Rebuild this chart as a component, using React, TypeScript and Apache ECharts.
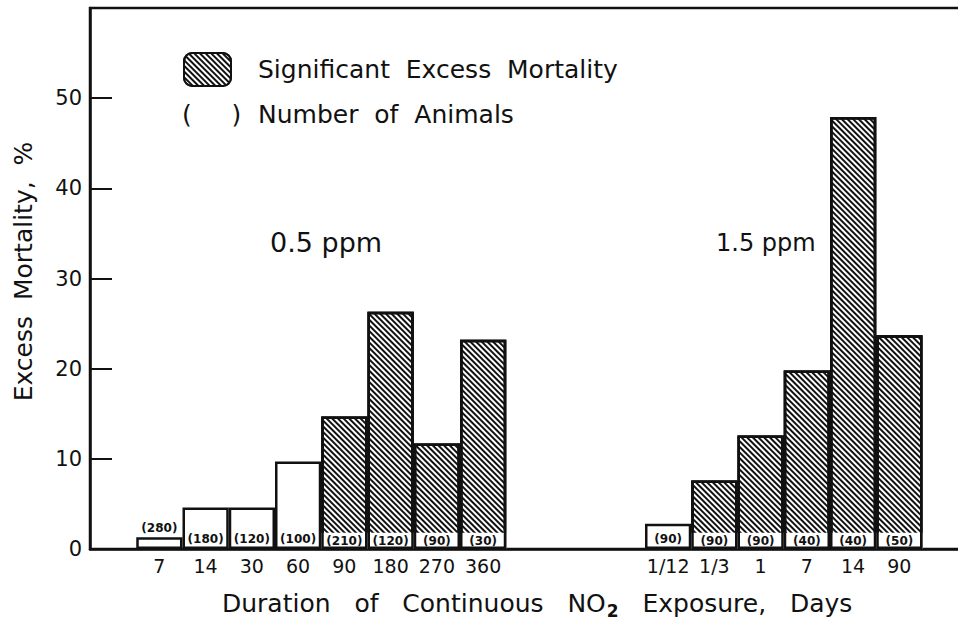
import React, { useEffect, useRef } from "react";
import * as echarts from "echarts";

const dur05 = ["7", "14", "30", "60", "90", "180", "270", "360"];
const mort05 = [1.3, 4.6, 4.6, 9.7, 14.7, 26.3, 11.7, 23.2];
const n05 = [280, 180, 120, 100, 210, 120, 90, 30];
const sig05 = [false, false, false, false, true, true, true, true];

const dur15 = ["1/12", "1/3", "1", "7", "14", "90"];
const mort15 = [2.8, 7.6, 12.6, 19.8, 47.9, 23.7];
const n15 = [90, 90, 90, 40, 40, 50];
const sig15 = [false, true, true, true, true, true];

const yTicks = [0, 10, 20, 30, 40, 50];
const STRIP = 1.8;

const FONT = "DejaVu Sans";

export default function App() {
  const ref = useRef<HTMLDivElement>(null);
  useEffect(() => {
    if (!ref.current) return;
    const chart = echarts.init(ref.current, null, { renderer: "svg" });

    const pad = (k: number) => Array.from({ length: k }, () => null);
    const categories = [""].concat(dur05, ["", "", ""], dur15, [""]);
    const values = ([null] as any[]).concat(mort05, pad(3), mort15, [null]);
    const counts = ([null] as any[]).concat(n05, pad(3), n15, [null]);
    const sig = ([false] as boolean[]).concat(sig05, [false, false, false], sig15, [false]);

    const decal = {
      symbol: "rect",
      symbolSize: 1,
      color: "#111",
      backgroundColor: "#fff",
      dashArrayX: [1, 0],
      dashArrayY: [1.6, 2.0],
      rotation: Math.PI / 4,
    };

    const hatched = values.map((v, i) => (v != null && sig[i] ? v : "-"));
    const plain = values.map((v, i) =>
      v != null && !sig[i]
        ? {
            value: v,
            label: {
              show: true,
              formatter: "(" + counts[i] + ")",
              position: v < 3 && i < 5 ? "top" : "insideBottom",
              distance: v < 3 && i < 5 ? 3 : 4,
            },
          }
        : "-"
    );
    const strip = values.map((v, i) =>
      v != null && sig[i]
        ? { value: STRIP, label: { show: true, formatter: "(" + counts[i] + ")", position: "inside" } }
        : "-"
    );
    const outline = values.map((v, i) => (v != null && sig[i] ? v : "-"));

    const labelStyle = {
      fontFamily: FONT,
      fontSize: 12,
      fontWeight: "bold" as const,
      color: "#111",
    };

    chart.setOption({
      animation: false,
      backgroundColor: "#fff",
      textStyle: { fontFamily: FONT, color: "#111" },
      grid: {
        left: 90,
        top: 8,
        width: 46.25 * 19,
        height: 541,
        containLabel: false,
        outerBoundsMode: "none",
        show: true,
        borderColor: "#111",
        borderWidth: 2.5,
        backgroundColor: "transparent",
      },
      legend: {
        show: true,
        data: ["Significant Excess Mortality"],
        formatter: () => "Significant  Excess  Mortality",
        left: 183,
        top: 52,
        padding: 0,
        itemWidth: 47,
        itemHeight: 33,
        selectedMode: false,
        textStyle: {
          fontFamily: FONT,
          fontSize: 25,
          color: "#111",
          padding: [6, 0, 0, 22],
        },
      },
      xAxis: {
        type: "category",
        data: categories,
        axisLine: { show: true, lineStyle: { color: "#111", width: 2.5 } },
        axisTick: { show: false },
        axisLabel: {
          interval: 0,
          margin: 7,
          fontFamily: FONT,
          fontSize: 19,
          color: "#111",
        },
        splitLine: { show: false },
      },
      yAxis: {
        type: "value",
        min: 0,
        max: 60,
        interval: 10,
        name: "Excess  Mortality,  %",
        nameLocation: "middle",
        nameRotate: 90,
        nameGap: 54,
        nameTextStyle: { fontFamily: FONT, fontSize: 25, color: "#111", padding: [0, 0, 0, 14] },
        axisLine: { show: true, lineStyle: { color: "#111", width: 2.5 } },
        axisTick: { show: true, inside: true, length: 22, lineStyle: { color: "#111", width: 2 } },
        axisLabel: {
          margin: 8,
          fontFamily: FONT,
          fontSize: 21,
          color: "#111",
          formatter: (v: number) => (yTicks.indexOf(v) >= 0 ? String(v) : ""),
        },
        splitLine: { show: false },
      },
      series: [
        {
          name: "Significant Excess Mortality",
          type: "bar",
          data: hatched,
          barCategoryGap: "0%",
          barGap: "-100%",
          itemStyle: { color: "#fff", decal, borderColor: "#111", borderWidth: 2.5 },
        },
        {
          name: "Not significant",
          type: "bar",
          data: plain,
          barGap: "-100%",
          barCategoryGap: "0%",
          itemStyle: { color: "#fff", borderColor: "#111", borderWidth: 2.5 },
          label: labelStyle,
        },
        {
          name: "strip",
          type: "bar",
          data: strip,
          barGap: "-100%",
          barCategoryGap: "0%",
          itemStyle: { color: "#fff", borderWidth: 0 },
          label: labelStyle,
        },
        {
          name: "outline",
          type: "bar",
          data: outline,
          barGap: "-100%",
          barCategoryGap: "0%",
          itemStyle: { color: "rgba(0,0,0,0)", borderColor: "#111", borderWidth: 2.5 },
        },
      ],
      graphic: [
        {
          type: "text",
          left: 182,
          top: 102,
          style: { text: "(     )", fontFamily: FONT, fontSize: 25, fill: "#111" },
        },
        {
          type: "text",
          left: 258,
          top: 102,
          style: { text: "Number  of  Animals", fontFamily: FONT, fontSize: 25, fill: "#111" },
        },
        {
          type: "text",
          left: 270,
          top: 229,
          style: { text: "0.5 ppm", fontFamily: FONT, fontSize: 27, fill: "#111" },
        },
        {
          type: "text",
          left: 716,
          top: 231,
          style: { text: "1.5 ppm", fontFamily: FONT, fontSize: 24, fill: "#111" },
        },
        {
          type: "text",
          left: 222,
          top: 591,
          style: {
            text: "Duration   of   Continuous   NO{sub|2}   Exposure,   Days",
            fontFamily: FONT,
            fontSize: 25,
            fill: "#111",
            rich: {
              sub: { fontFamily: FONT, fontSize: 17, fontWeight: "bold", padding: [15, 0, 0, 1] },
            },
          },
        },
      ],
    });
    return () => chart.dispose();
  }, []);
  return (
    <div
      ref={ref}
      style={{ position: "fixed", left: 0, top: 0, width: 958, height: 623 }}
    />
  );
}
